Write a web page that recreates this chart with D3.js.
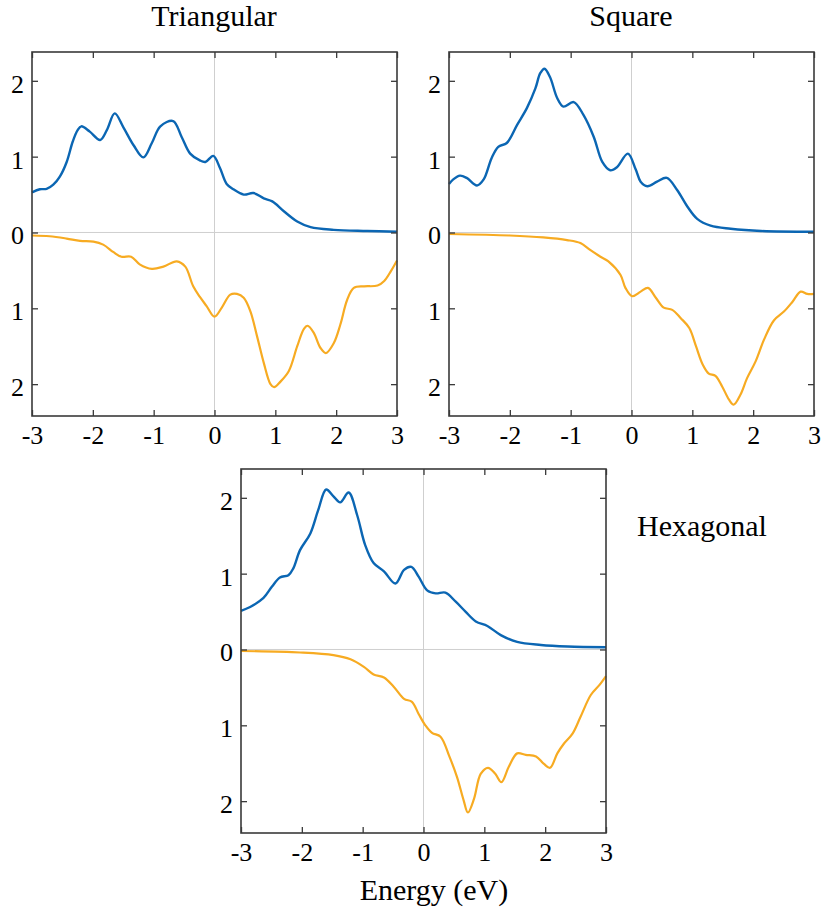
<!DOCTYPE html>
<html>
<head>
<meta charset="utf-8">
<script src="https://cdn.jsdelivr.net/npm/d3@7"></script>
<style>
  body { margin: 0; background: #fff; }
  text { font-family: "Liberation Serif", "Times New Roman", serif; fill: #000; }
</style>
</head>
<body>
<div id="chart"></div>
<script>
// energy (eV), DOS — spin up drawn above zero, spin down below
const triUp = [[-3,0.53],[-2.87,0.57],[-2.76,0.575],[-2.65,0.63],[-2.54,0.74],[-2.43,0.93],[-2.33,1.20],[-2.25,1.35],[-2.19,1.40],[-2.05,1.33],[-1.88,1.22],[-1.77,1.35],[-1.64,1.57],[-1.50,1.39],[-1.33,1.15],[-1.17,0.99],[-1.03,1.18],[-0.89,1.40],[-0.68,1.47],[-0.54,1.26],[-0.40,1.04],[-0.24,0.95],[-0.15,0.93],[-0.02,1.01],[0.09,0.85],[0.20,0.64],[0.31,0.57],[0.48,0.50],[0.64,0.52],[0.81,0.45],[0.95,0.41],[1.14,0.28],[1.36,0.145],[1.58,0.07],[1.96,0.035],[2.51,0.02],[3,0.01]];
const triDown = [[-3,0.04],[-2.71,0.05],[-2.43,0.08],[-2.21,0.11],[-1.99,0.12],[-1.83,0.16],[-1.66,0.26],[-1.53,0.32],[-1.37,0.32],[-1.23,0.42],[-1.03,0.48],[-0.84,0.45],[-0.62,0.38],[-0.48,0.45],[-0.35,0.71],[-0.24,0.85],[-0.13,0.97],[0,1.11],[0.12,0.99],[0.26,0.82],[0.37,0.81],[0.48,0.86],[0.59,1.04],[0.70,1.37],[0.81,1.72],[0.92,2.00],[0.98,2.04],[1.08,1.97],[1.22,1.83],[1.36,1.50],[1.47,1.27],[1.53,1.23],[1.63,1.32],[1.74,1.52],[1.83,1.59],[1.96,1.46],[2.07,1.21],[2.18,0.89],[2.29,0.73],[2.46,0.71],[2.68,0.70],[2.79,0.64],[2.90,0.51],[3,0.37]];

const sqUp = [[-3,0.64],[-2.93,0.70],[-2.82,0.75],[-2.71,0.72],[-2.54,0.62],[-2.43,0.70],[-2.30,0.98],[-2.19,1.13],[-2.05,1.18],[-1.88,1.42],[-1.72,1.64],[-1.58,1.90],[-1.50,2.10],[-1.43,2.16],[-1.34,2.05],[-1.22,1.77],[-1.12,1.66],[-0.95,1.72],[-0.79,1.55],[-0.62,1.26],[-0.48,0.93],[-0.35,0.82],[-0.24,0.86],[-0.06,1.04],[0.07,0.83],[0.15,0.67],[0.26,0.61],[0.42,0.67],[0.58,0.72],[0.75,0.56],[0.92,0.34],[1.08,0.18],[1.30,0.09],[1.63,0.05],[2.13,0.02],[3,0.01]];
const sqDown = [[-3,0.02],[-2.0,0.04],[-1.45,0.065],[-1.06,0.10],[-0.84,0.14],[-0.68,0.23],[-0.51,0.32],[-0.38,0.38],[-0.18,0.56],[-0.10,0.73],[0.01,0.84],[0.15,0.78],[0.27,0.73],[0.40,0.86],[0.53,0.99],[0.67,1.02],[0.81,1.13],[0.95,1.26],[1.06,1.50],[1.17,1.74],[1.27,1.86],[1.38,1.89],[1.49,2.03],[1.60,2.20],[1.68,2.27],[1.79,2.14],[1.90,1.92],[2.04,1.70],[2.18,1.41],[2.34,1.16],[2.51,1.04],[2.65,0.91],[2.78,0.78],[2.89,0.81],[3,0.81]];

const hexUp = [[-3,0.51],[-2.85,0.56],[-2.63,0.68],[-2.49,0.83],[-2.36,0.95],[-2.22,0.98],[-2.14,1.07],[-2.03,1.31],[-1.86,1.53],[-1.73,1.84],[-1.60,2.11],[-1.48,2.02],[-1.37,1.94],[-1.23,2.07],[-1.09,1.77],[-0.96,1.38],[-0.82,1.14],[-0.65,1.03],[-0.46,0.87],[-0.32,1.05],[-0.20,1.09],[-0.08,0.96],[0.06,0.78],[0.20,0.74],[0.36,0.75],[0.53,0.63],[0.69,0.50],[0.86,0.37],[1.05,0.31],[1.27,0.19],[1.54,0.10],[1.93,0.06],[2.37,0.04],[3,0.03]];
const hexDown = [[-3,0.02],[-2.03,0.04],[-1.48,0.075],[-1.2,0.13],[-0.98,0.23],[-0.82,0.33],[-0.65,0.37],[-0.49,0.49],[-0.32,0.65],[-0.19,0.69],[-0.08,0.85],[0.03,1.00],[0.14,1.10],[0.28,1.15],[0.42,1.40],[0.55,1.68],[0.66,1.99],[0.73,2.15],[0.83,1.97],[0.94,1.64],[1.06,1.56],[1.18,1.64],[1.28,1.75],[1.40,1.55],[1.54,1.37],[1.68,1.39],[1.85,1.41],[1.98,1.51],[2.08,1.56],[2.20,1.37],[2.31,1.24],[2.45,1.11],[2.58,0.89],[2.75,0.60],[2.89,0.47],[3,0.35]];

const xTicks = [-3, -2, -1, 0, 1, 2, 3];
const yTicks = [-2, -1, 0, 1, 2];

const upColor = "#0b66b3",
    downColor = "#f7ab22",
    frameColor = "#3a3a3a";

const width = 826, height = 912;
const panelW = 365, panelH = 364;

const svg = d3.select("#chart").append("svg")
    .attr("width", width)
    .attr("height", height);

function drawPanel(left, top, up, down) {
    const x = d3.scaleLinear().domain([-3, 3]).range([left, left + panelW]);
    const y = d3.scaleLinear().domain([-2.42, 2.38]).range([top + panelH, top]);
    const g = svg.append("g");

    // zero lines
    g.append("line")
        .attr("x1", x(0)).attr("x2", x(0))
        .attr("y1", top).attr("y2", top + panelH)
        .attr("stroke", "#cfcfcf").attr("stroke-width", 1);
    g.append("line")
        .attr("x1", left).attr("x2", left + panelW)
        .attr("y1", y(0)).attr("y2", y(0))
        .attr("stroke", "#cfcfcf").attr("stroke-width", 1);

    const line = d3.line()
        .x(d => x(d[0]))
        .curve(d3.curveCatmullRom.alpha(0.5));

    g.append("path")
        .datum(down)
        .attr("fill", "none")
        .attr("stroke", downColor)
        .attr("stroke-width", 2.2)
        .attr("d", line.y(d => y(-d[1])));

    g.append("path")
        .datum(up)
        .attr("fill", "none")
        .attr("stroke", upColor)
        .attr("stroke-width", 2.4)
        .attr("d", line.y(d => y(d[1])));

    const fmtAbs = d => String(Math.abs(d));
    const fmtX = d => (d < 0 ? "-" + Math.abs(d) : String(d));

    g.append("g")
        .attr("transform", `translate(0,${top + panelH})`)
        .call(d3.axisBottom(x).tickValues(xTicks).tickSizeInner(-6).tickSizeOuter(0).tickPadding(10).tickFormat(fmtX))
        .call(a => a.selectAll("text").attr("font-size", 26).attr("dy", "0.71em"));
    g.append("g")
        .attr("transform", `translate(0,${top})`)
        .call(d3.axisTop(x).tickValues(xTicks).tickSizeInner(-6).tickSizeOuter(0).tickFormat(""));
    g.append("g")
        .attr("transform", `translate(${left},0)`)
        .call(d3.axisLeft(y).tickValues(yTicks).tickSizeInner(-6).tickSizeOuter(0).tickPadding(8).tickFormat(fmtAbs))
        .call(a => a.selectAll("text").attr("font-size", 26).attr("dy", "0.44em"));
    g.append("g")
        .attr("transform", `translate(${left + panelW},0)`)
        .call(d3.axisRight(y).tickValues(yTicks).tickSizeInner(-6).tickSizeOuter(0).tickFormat(""));

    g.selectAll(".domain").remove();
    g.selectAll(".tick line").attr("stroke", frameColor).attr("stroke-width", 1.3);
    g.selectAll(".tick text").style("font-family", '"Liberation Serif", serif').attr("fill", "#000");

    g.append("rect")
        .attr("x", left).attr("y", top)
        .attr("width", panelW).attr("height", panelH)
        .attr("fill", "none")
        .attr("stroke", frameColor)
        .attr("stroke-width", 1.6);
}

drawPanel(32, 52, triUp, triDown);
drawPanel(449, 52, sqUp, sqDown);
drawPanel(241, 469, hexUp, hexDown);

svg.append("text").attr("x", 214).attr("y", 26).attr("text-anchor", "middle")
    .attr("font-size", 30).text("Triangular");
svg.append("text").attr("x", 631).attr("y", 26).attr("text-anchor", "middle")
    .attr("font-size", 30).text("Square");
svg.append("text").attr("x", 637).attr("y", 536).attr("text-anchor", "start")
    .attr("font-size", 30).text("Hexagonal");
svg.append("text").attr("x", 434).attr("y", 900).attr("text-anchor", "middle")
    .attr("font-size", 30).text("Energy (eV)");
</script>
</body>
</html>
